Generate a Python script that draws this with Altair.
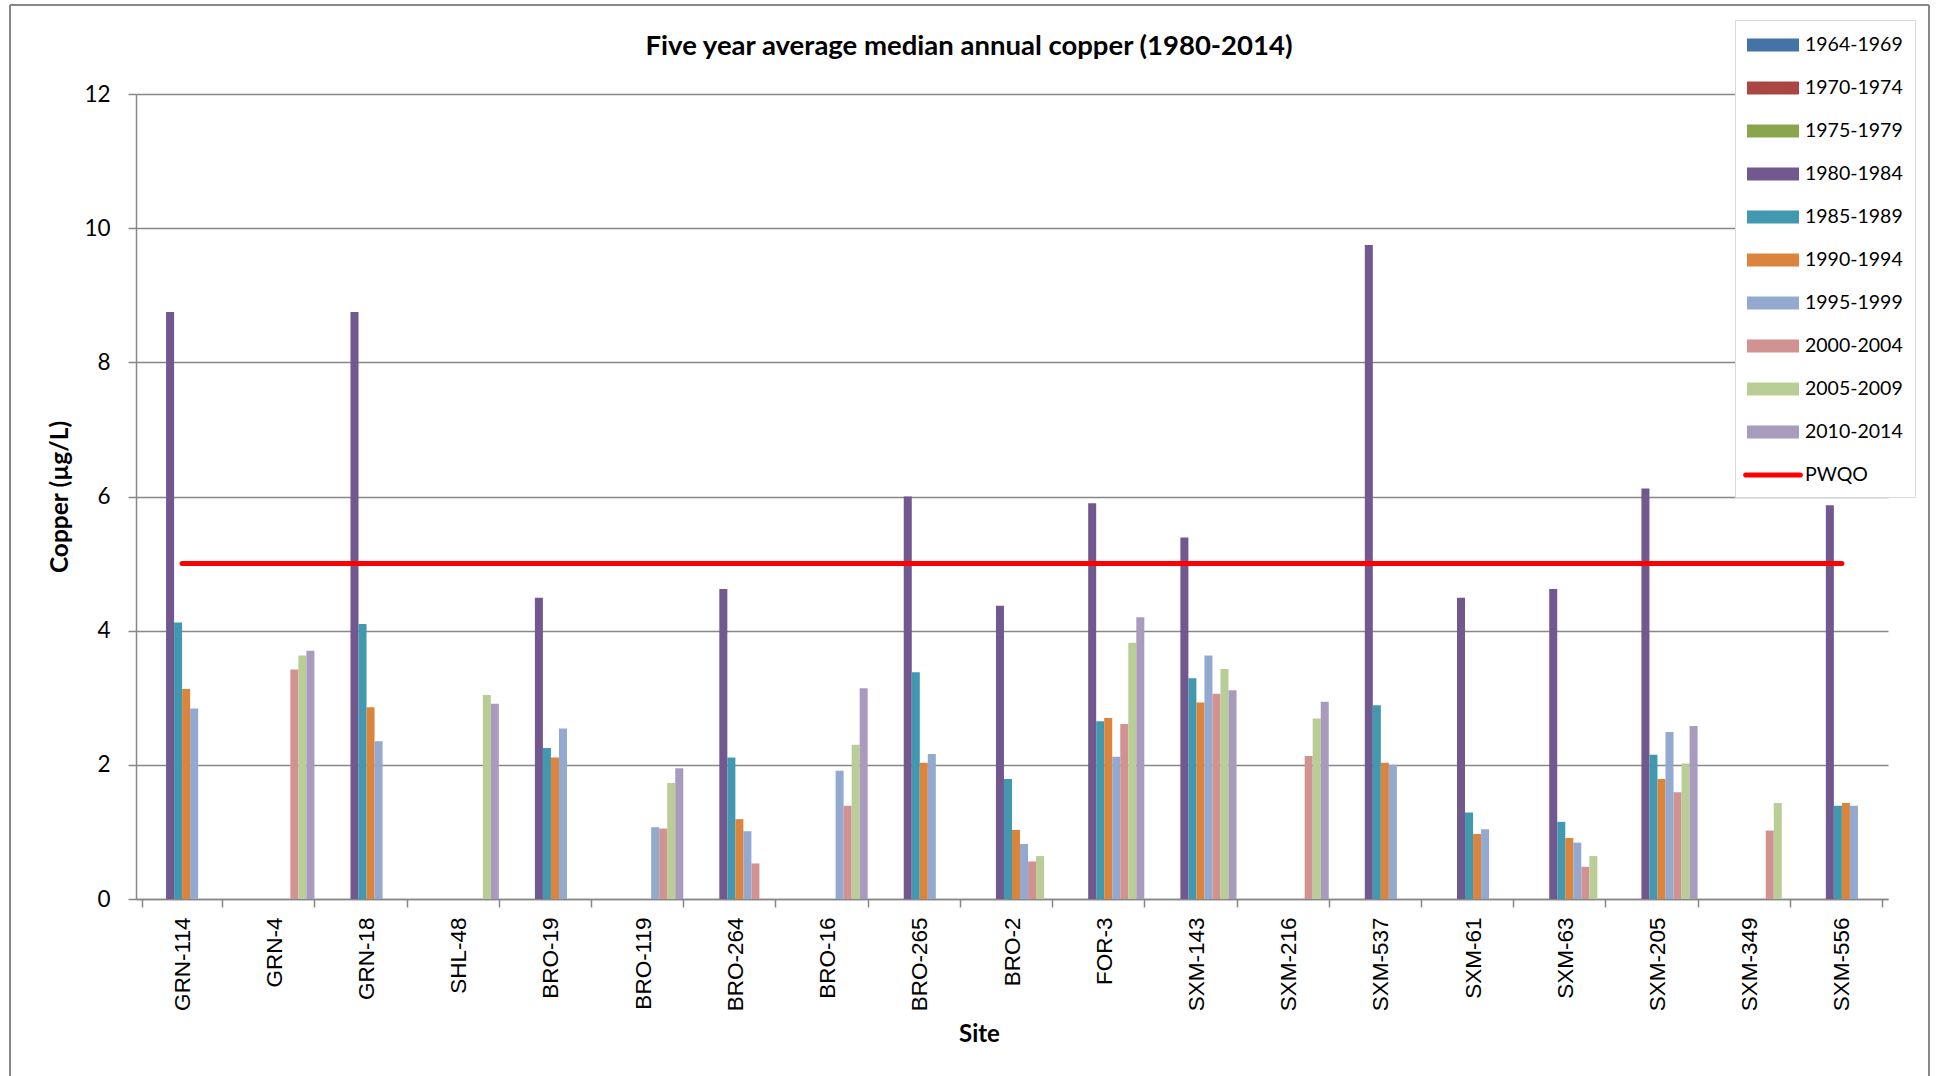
import altair as alt
import pandas as pd

# Sampling sites along the x axis
sites = [
    "GRN-114", "GRN-4", "GRN-18", "SHL-48", "BRO-19", "BRO-119", "BRO-264",
    "BRO-16", "BRO-265", "BRO-2", "FOR-3", "SXM-143", "SXM-216", "SXM-537",
    "SXM-61", "SXM-63", "SXM-205", "SXM-349", "SXM-556",
]

# Five-year periods (the first three have no measurements at these sites)
periods = [
    "1964-1969", "1970-1974", "1975-1979", "1980-1984", "1985-1989",
    "1990-1994", "1995-1999", "2000-2004", "2005-2009", "2010-2014",
]
period_colors = [
    "#4572A7", "#AA4643", "#89A54E", "#71588F", "#4198AF",
    "#DB843D", "#93A9CF", "#D19392", "#B9CD96", "#A99BBD",
]

# Median annual copper (ug/L), one value per site, None = no data
cu_1980_1984 = [8.75, None, 8.75, None, 4.49, None, 4.62, None, 6.00, 4.37,
                5.90, 5.39, None, 9.75, 4.49, 4.62, 6.12, None, 5.87]
cu_1985_1989 = [4.12, None, 4.10, None, 2.25, None, 2.11, None, 3.38, 1.79,
                2.65, 3.29, None, 2.89, 1.29, 1.15, 2.15, None, 1.39]
cu_1990_1994 = [3.13, None, 2.86, None, 2.11, None, 1.19, None, 2.03, 1.03,
                2.70, 2.93, None, 2.03, 0.97, 0.91, 1.79, None, 1.43]
cu_1995_1999 = [2.84, None, 2.35, None, 2.54, 1.07, 1.01, 1.91, 2.16, 0.82,
                2.12, 3.63, None, 2.00, 1.04, 0.84, 2.49, None, 1.39]
cu_2000_2004 = [None, 3.42, None, None, None, 1.05, 0.53, 1.39, None, 0.56,
                2.61, 3.06, 2.13, None, None, 0.48, 1.59, 1.02, None]
cu_2005_2009 = [None, 3.63, None, 3.04, None, 1.73, None, 2.30, None, 0.64,
                3.82, 3.43, 2.69, None, None, 0.64, 2.02, 1.43, None]
cu_2010_2014 = [None, 3.70, None, 2.91, None, 1.95, None, 3.14, None, None,
                4.20, 3.11, 2.94, None, None, None, 2.58, None, None]

# Provincial Water Quality Objective for copper (ug/L)
pwqo = 5.0

series = {
    "1980-1984": cu_1980_1984,
    "1985-1989": cu_1985_1989,
    "1990-1994": cu_1990_1994,
    "1995-1999": cu_1995_1999,
    "2000-2004": cu_2000_2004,
    "2005-2009": cu_2005_2009,
    "2010-2014": cu_2010_2014,
}

bar_rows = []
for period, vals in series.items():
    for site, v in zip(sites, vals):
        if v is not None:
            bar_rows.append({"site": site, "period": period, "copper": v})
bar_df = pd.DataFrame(bar_rows)

line_df = pd.DataFrame({"site": sites, "copper": [pwqo for _ in sites]})

legend_domain = periods + ["PWQO"]
legend_colors = period_colors + ["#FF0000"]
rect_path = "M-2,-0.5H2V0.5H-2Z"
line_path = "M-2.1,-0.2H2.1A0.2,0.2 0 0 1 2.1,0.2H-2.1A0.2,0.2 0 0 1 -2.1,-0.2Z"
legend_shapes = [rect_path] * len(periods) + [line_path]

# Keys for the legend only: no valid y value, so nothing is drawn in the plot
key_df = pd.DataFrame({
    "site": [sites[0]] * len(legend_domain),
    "period": legend_domain,
    "copper": [None] * len(legend_domain),
})

GREY = "#878787"
W, H = 1752, 805

legend = alt.Legend(
    title=None, orient="none", legendX=1599, legendY=-74,
    symbolSize=676, symbolStrokeWidth=0, symbolOpacity=1, symbolOffset=13,
    labelFont="Lato", labelFontSize=19.5, labelColor="black",
    labelOffset=19, rowPadding=20, padding=12,
    strokeColor="#d9d9d9", fillColor="white",
)
color_enc = alt.Color(
    "period:N",
    scale=alt.Scale(domain=legend_domain, range=legend_colors),
    legend=legend,
)

x_enc = alt.X(
    "site:N", sort=sites, title="Site",
    scale=alt.Scale(paddingInner=0.13, paddingOuter=0.065),
    axis=alt.Axis(
        labelAngle=270, labelFont="Liberation Sans", labelFontSize=22.5,
        labelColor="black", labelPadding=10, tickBand="extent", tickSize=8,
        tickColor=GREY, tickWidth=1.5, domainColor=GREY, domainWidth=1.5,
        grid=False, titleFont="Lato", titleFontWeight="bold",
        titleFontSize=24, titleColor="black", titleX=843, titleY=135,
        titleBaseline="middle",
    ),
)
y_enc = alt.Y(
    "copper:Q", title="Copper (µg/L)",
    scale=alt.Scale(domain=[0, 12]),
    axis=alt.Axis(
        values=[0, 2, 4, 6, 8, 10, 12], format="d", labelFont="Lato",
        labelFontSize=22.5, labelColor="black", labelPadding=18, tickSize=8,
        tickColor=GREY, tickWidth=1.5, domainColor=GREY, domainWidth=1.5,
        gridColor=GREY, gridWidth=1.4, titleFont="Lato",
        titleFontWeight="bold", titleFontSize=24.5, titleColor="black",
        titleAngle=270, titleX=-76, titleY=H / 2, titleAlign="center",
        titleBaseline="middle",
    ),
)

bars = alt.Chart(bar_df).mark_bar().encode(
    x=x_enc,
    xOffset=alt.XOffset(
        "period:N",
        scale=alt.Scale(domain=periods, paddingInner=0, paddingOuter=0),
    ),
    y=y_enc,
    color=color_enc,
)

keys = alt.Chart(key_df).mark_point(filled=True, size=676).encode(
    x=alt.X("site:N", sort=sites),
    y=alt.Y("copper:Q"),
    color=color_enc,
    shape=alt.Shape(
        "period:N",
        scale=alt.Scale(domain=legend_domain, range=legend_shapes),
        legend=legend,
    ),
)

pwqo_line = alt.Chart(line_df).mark_line(
    color="#FF0000", strokeWidth=5, strokeCap="round"
).encode(
    x=alt.X("site:N", sort=sites),
    y=alt.Y("copper:Q"),
)

# Grey frame around the whole chart
frame_df = pd.DataFrame({"k": [0]})
frame_left = alt.Chart(frame_df).mark_rule(color=GREY, strokeWidth=2).encode(
    x=alt.value(-126), y=alt.value(-89), y2=alt.value(990))
frame_right = alt.Chart(frame_df).mark_rule(color=GREY, strokeWidth=2).encode(
    x=alt.value(1793), y=alt.value(-89), y2=alt.value(990))
frame_top = alt.Chart(frame_df).mark_rule(color=GREY, strokeWidth=2).encode(
    x=alt.value(-126), x2=alt.value(1793), y=alt.value(-89))

chart = alt.layer(
    bars, pwqo_line, keys, frame_left, frame_right, frame_top
).properties(
    width=W,
    height=H,
    autosize=alt.AutoSizeParams(type="none"),
    padding={"left": 136, "top": 94, "right": 51, "bottom": 177},
    background="white",
    title=alt.TitleParams(
        "Five year average median annual copper (1980-2014)",
        font="Lato", fontSize=27.5, fontWeight="bold", color="black",
        anchor="middle", frame="group", dx=-43, offset=-78,
        baseline="alphabetic",
    ),
).configure_view(stroke=None)

chart.save("out.html", embed_options={"renderer": "svg", "actions": False})
